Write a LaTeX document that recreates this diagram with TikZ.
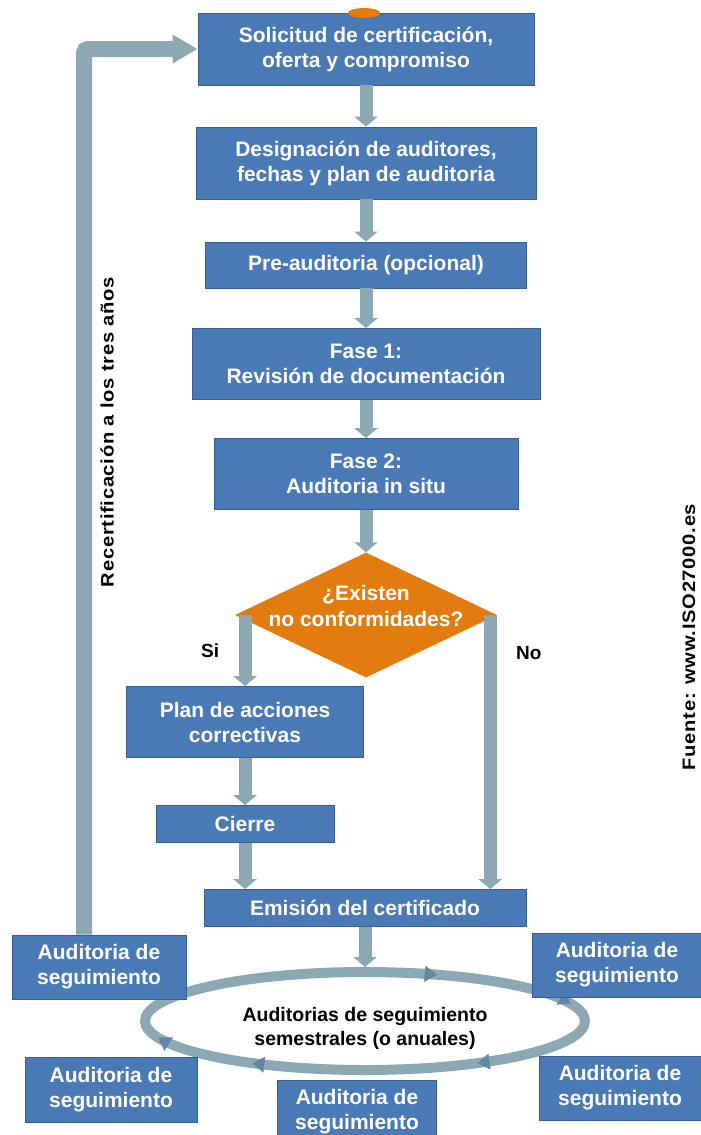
\documentclass[tikz,border=0pt]{standalone}
\usepackage{fontspec}
\setmainfont{Liberation Sans}
\newfontfamily\sidefont[FakeStretch=1.12, LetterSpace=4]{Liberation Sans}
\usetikzlibrary{shapes.geometric,arrows.meta,decorations.markings}

\definecolor{azul_caja}{RGB}{74,122,182}
\definecolor{borde_caja}{RGB}{55,94,145}
\definecolor{gris_flecha}{RGB}{140,168,178}
\definecolor{punta_anillo}{RGB}{98,136,166}
\definecolor{naranja}{RGB}{226,124,14}

\begin{document}
\begin{tikzpicture}[
    x=1pt, y=-1pt,
    proc/.style={rectangle, draw=borde_caja, fill=azul_caja, line width=0.8pt,
                 text=white, font=\fontsize{21}{25}\selectfont\bfseries,
                 align=center, inner sep=0pt},
    dec/.style={diamond, fill=naranja, inner sep=0pt,
                minimum width=262pt, minimum height=125pt},
    dectext/.style={text=white, font=\fontsize{21}{26}\selectfont\bfseries,
                    align=center, yshift=9pt},
    start/.style={ellipse, fill=naranja, inner sep=0pt,
                  minimum width=32pt, minimum height=10pt},
    flow/.style={draw=gris_flecha, line width=13pt,
                 -{Triangle[width=23pt,length=10pt]}},
    recflow/.style={draw=gris_flecha, line width=16pt, rounded corners=4pt,
                    -{Triangle[width=27pt,length=25pt]}},
    ring/.style={ellipse, draw=gris_flecha, line width=10pt, fill=white,
                 minimum width=440pt, minimum height=98pt, inner sep=0pt},
    ringtext/.style={text=black, font=\fontsize{19.5}{24}\selectfont\bfseries,
                     align=center, yshift=-7pt},
    ringmarks/.style={postaction=decorate, decoration={markings,
        mark=at position 0.129 with {\arrow[punta_anillo]{Triangle[width=16pt,length=12pt]}},
        mark=at position 0.371 with {\arrow[punta_anillo]{Triangle[width=16pt,length=12pt]}},
        mark=at position 0.476 with {\arrow[punta_anillo]{Triangle[width=16pt,length=12pt]}},
        mark=at position 0.827 with {\arrow[punta_anillo]{Triangle[width=16pt,length=12pt]}},
        mark=at position 0.975 with {\arrow[punta_anillo]{Triangle[width=16pt,length=12pt]}}}},
    side/.style={rotate=90, text=black, font=\fontsize{18}{20}\sidefont\bfseries},
    lbl/.style={text=black, font=\fontsize{19}{22}\selectfont\bfseries}
]
    \useasboundingbox (0,0) rectangle (701,1135);

    % Main sequence
    \node[proc, minimum width=336pt, minimum height=72pt] (sol) at (366,49)
        {Solicitud de certificación,\\oferta y compromiso};
    \node[start] (inicio) at (364,13) {};
    \node[proc, minimum width=340pt, minimum height=72pt] (des) at (366,163)
        {Designación de auditores,\\fechas y plan de auditoria};
    \node[proc, minimum width=321pt, minimum height=46pt] (pre) at (366,265)
        {Pre-auditoria (opcional)};
    \node[proc, minimum width=348pt, minimum height=71pt] (f1) at (366,364)
        {Fase 1:\\Revisión de documentación};
    \node[proc, minimum width=304pt, minimum height=71pt] (f2) at (366,474)
        {Fase 2:\\Auditoria in situ};

    % Decision
    \node[dec, label={[dectext]center:{¿Existen\\no conformidades?}}] (dia) at (366,615) {};

    % Corrective branch
    \node[proc, minimum width=237pt, minimum height=71pt] (plan) at (245,722)
        {Plan de acciones\\correctivas};
    \node[proc, minimum width=178pt, minimum height=37pt] (cie) at (245,824) {Cierre};
    \node[proc, minimum width=322pt, minimum height=37pt] (emi) at (365,908)
        {Emisión del certificado};

    % Arrows along the sequence
    \draw[flow] (sol.south) -- (des.north);
    \draw[flow] (des.south) -- (pre.north);
    \draw[flow] (pre.south) -- (f1.north);
    \draw[flow] (f1.south) -- (f2.north);
    \draw[flow] (f2.south) -- (dia.north);
    \draw[flow] (dia.west -| plan.north) -- (plan.north)
        node[midway, lbl, left=16pt] {Si};
    \draw[flow] ([xshift=-7pt]dia.east) -- ([xshift=-7pt]dia.east |- emi.north)
        node[pos=0.14, lbl, right=16pt] {No};
    \draw[flow] (plan.south) -- (cie.north);
    \draw[flow] (cie.south) -- (cie.south |- emi.north);

    % Follow-up cycle
    \node[ring, label={[ringtext]center:{Auditorias de seguimiento\\semestrales (o anuales)}}]
        (ring) at (365,1021) {};
    \path[ringmarks] (ring.center) ellipse [x radius=220, y radius=49];
    \draw[flow] (emi.south) -- (ring.north);

    \node[proc, minimum width=174pt, minimum height=64pt] (lb) at (99,967)
        {Auditoria de\\seguimiento};
    \node[proc, minimum width=169pt, minimum height=64pt] (rt) at (617,965)
        {Auditoria de\\seguimiento};
    \node[proc, minimum width=172pt, minimum height=65pt] (bl) at (111,1090)
        {Auditoria de\\seguimiento};
    \node[proc, minimum width=159pt, minimum height=64pt] (bm) at (357,1112)
        {Auditoria de\\seguimiento};
    \node[proc, minimum width=162pt, minimum height=64pt] (br) at (620,1088)
        {Auditoria de\\seguimiento};

    % Recertification loop
    \draw[recflow] ([xshift=-15pt]lb.north) |- (sol.west);
    \node[side] (rec) at (107,432) {Recertificación a los tres años};
    \node[side] (fuente) at (689,637) {Fuente: www.ISO27000.es};

\end{tikzpicture}
\end{document}
